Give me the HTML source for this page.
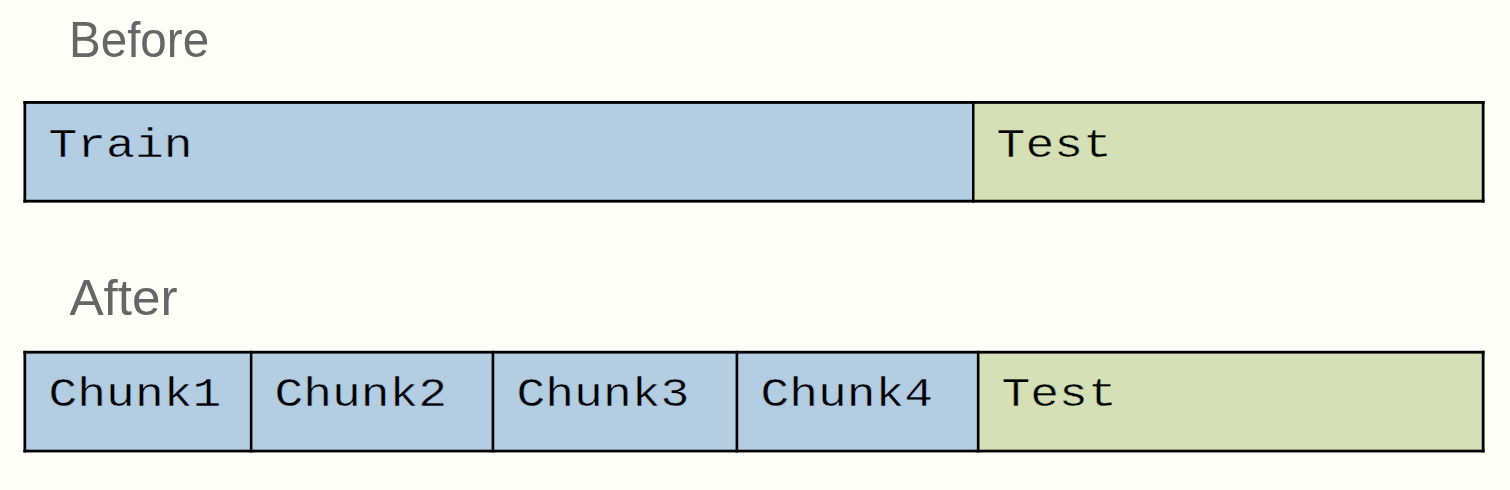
<!DOCTYPE html>
<html>
<head>
<meta charset="utf-8">
<title>Before / After</title>
<style>
html,body{margin:0;padding:0;}
body{width:1510px;height:490px;overflow:hidden;background:#fefef8;position:relative;}
svg{position:absolute;left:0;top:0;display:block;}
.lbl{font-family:"Liberation Sans",sans-serif;font-size:50px;fill:#666666;}
.mono{font-family:"Liberation Mono",monospace;font-size:48px;fill:#000;stroke-width:0.5px;}
.mb{stroke:#b3cde3;}
.mg{stroke:#d5e0b7;}
</style>
</head>
<body>
<svg width="1510" height="490" viewBox="0 0 1510 490">
  <!-- top bar -->
  <rect x="24" y="102" width="950" height="100" fill="#b3cde3"/>
  <rect x="973" y="102" width="510" height="100" fill="#d5e0b7"/>
  <rect x="23.45" y="101.00" width="1461.10" height="2.85" fill="#000"/>
  <rect x="23.45" y="199.75" width="1461.10" height="2.85" fill="#000"/>
  <rect x="23.45" y="101.00" width="2.75" height="101.60" fill="#000"/>
  <rect x="1481.75" y="101.00" width="2.80" height="101.60" fill="#000"/>
  <rect x="972.00" y="101.00" width="2.50" height="101.60" fill="#000"/>
  <!-- bottom bar -->
  <rect x="24" y="352" width="955" height="100" fill="#b3cde3"/>
  <rect x="978" y="352" width="505" height="100" fill="#d5e0b7"/>
  <rect x="23.45" y="350.80" width="1461.10" height="2.80" fill="#000"/>
  <rect x="23.45" y="449.70" width="1461.10" height="2.75" fill="#000"/>
  <rect x="23.45" y="350.80" width="2.75" height="101.65" fill="#000"/>
  <rect x="1481.75" y="350.80" width="2.80" height="101.65" fill="#000"/>
  <rect x="249.85" y="350.80" width="2.55" height="101.65" fill="#000"/>
  <rect x="491.60" y="350.80" width="2.65" height="101.65" fill="#000"/>
  <rect x="735.60" y="350.80" width="2.65" height="101.65" fill="#000"/>
  <rect x="976.85" y="350.80" width="2.65" height="101.65" fill="#000"/>

  <!-- labels -->
  <text class="lbl" transform="translate(69,56.8) scale(0.951,1)">Before</text>
  <text class="lbl" transform="translate(69.4,314.9) scale(1.024,1)">After</text>

  <!-- mono texts -->
  <g transform="translate(48.5,156.92) scale(1,0.865)"><text class="mono mb">Train</text></g>
  <g transform="translate(996.6,156.92) scale(1,0.865)"><text class="mono mg">Test</text></g>
  <g transform="translate(48.5,405.62) scale(1,0.865)"><text class="mono mb">Chunk1</text></g>
  <g transform="translate(274.4,405.62) scale(1,0.865)"><text class="mono mb">Chunk2</text></g>
  <g transform="translate(516.5,405.62) scale(1,0.865)"><text class="mono mb">Chunk3</text></g>
  <g transform="translate(760.4,405.62) scale(1,0.865)"><text class="mono mb">Chunk4</text></g>
  <g transform="translate(1001.5,405.82) scale(1,0.865)"><text class="mono mg">Test</text></g>
</svg>
</body>
</html>
